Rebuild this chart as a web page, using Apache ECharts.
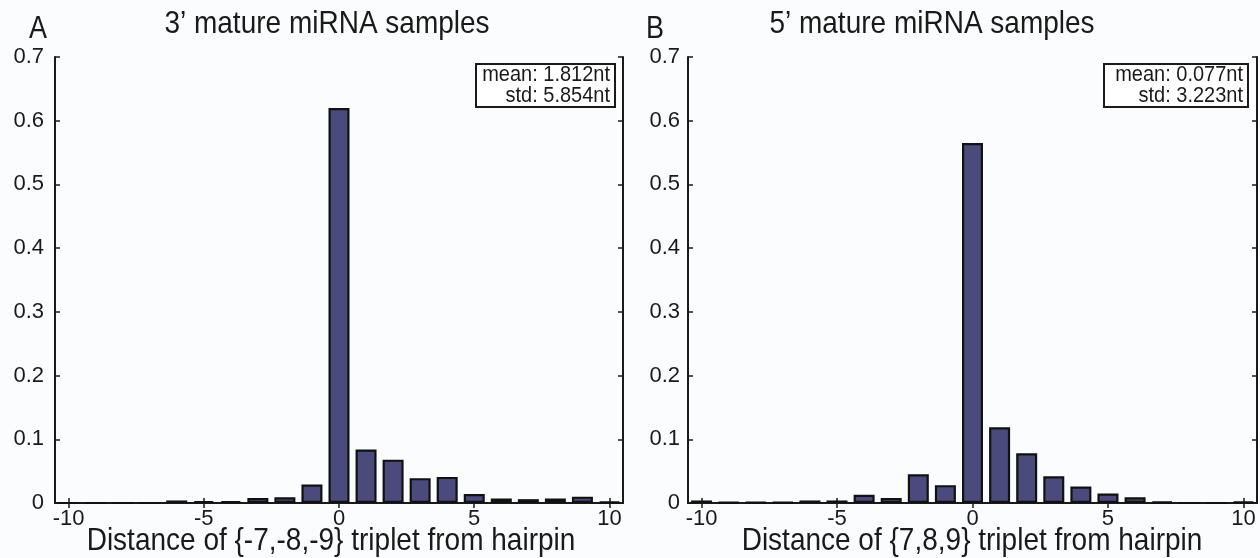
<!DOCTYPE html>
<html>
<head>
<meta charset="UTF-8" />
<title>miRNA triplet distance</title>
<script src="https://cdn.jsdelivr.net/npm/echarts@6/dist/echarts.min.js"></script>
<style>
  html, body { margin: 0; padding: 0; background: #fbfcfe; }
  #chart { width: 1260px; height: 558px; }
</style>
</head>
<body>
<div id="chart"></div>
<script>
// distance bins (nt)
var distances = ['-10','-9','-8','-7','-6','-5','-4','-3','-2','-1','0','1','2','3','4','5','6','7','8','9','10'];
// fraction of samples, panel A (3' mature) and panel B (5' mature)
var frac3p = [0, 0, 0, 0, 0.004, 0.003, 0.003, 0.008, 0.009, 0.029, 0.62, 0.084, 0.068, 0.039, 0.041, 0.014, 0.007, 0.006, 0.007, 0.010, 0.002];
var frac5p = [0.004, 0.001, 0.001, 0.001, 0.004, 0.004, 0.013, 0.008, 0.045, 0.028, 0.565, 0.119, 0.078, 0.042, 0.026, 0.015, 0.009, 0.002, 0, 0, 0.002];
var panelLetters = ['A', 'B'];
var panelTitles = ['3\u2019 mature miRNA samples', '5\u2019 mature miRNA samples'];
var xNames = ['Distance of {-7,-8,-9} triplet from hairpin', 'Distance of {7,8,9} triplet from hairpin'];
var statsMean = ['mean: 1.812nt', 'mean: 0.077nt'];
var statsStd = ['std: 5.854nt', 'std: 3.223nt'];

var FONT = '"Liberation Sans", Arial, Helvetica, sans-serif';
var INK = '#1a1a1a';
var BAR = '#4a4a7c';

var grids = [
  { left: 55, top: 57, width: 568, height: 446, outerBoundsMode: 'none' },
  { left: 688, top: 57, width: 569, height: 446, outerBoundsMode: 'none' }
];

function every5(i, v) { return Number(v) % 5 === 0; }

var xAxes = [], yAxes = [], series = [];
[frac3p, frac5p].forEach(function (data, g) {
  // bottom axis with labels
  xAxes.push({
    type: 'category', gridIndex: g, data: distances, position: 'bottom',
    axisLine: { show: true, lineStyle: { color: INK, width: 2 } },
    axisTick: { show: true, inside: true, length: 5, alignWithLabel: true, interval: every5, lineStyle: { color: INK, width: 1.5 } },
    axisLabel: { interval: every5, margin: 5, color: INK, fontSize: 22, fontFamily: FONT },
    splitLine: { show: false }
  });
  // top box line with ticks
  xAxes.push({
    type: 'category', gridIndex: g, data: distances, position: 'top',
    axisLine: { show: true, lineStyle: { color: INK, width: 2 } },
    axisTick: { show: true, inside: true, length: 5, alignWithLabel: true, interval: every5, lineStyle: { color: INK, width: 1.5 } },
    axisLabel: { show: false },
    splitLine: { show: false }
  });
  yAxes.push({
    type: 'value', gridIndex: g, min: 0, max: 0.7, interval: 0.1, position: 'left',
    axisLine: { show: true, lineStyle: { color: INK, width: 2 } },
    axisTick: { show: true, inside: true, length: 5, lineStyle: { color: INK, width: 1.5 } },
    axisLabel: {
      margin: g === 0 ? 11 : 8, color: INK, fontSize: 22, fontFamily: FONT,
      formatter: function (v) { return v === 0 ? '0' : v.toFixed(1); }
    },
    splitLine: { show: false }
  });
  yAxes.push({
    type: 'value', gridIndex: g, min: 0, max: 0.7, interval: 0.1, position: 'right',
    axisLine: { show: true, lineStyle: { color: INK, width: 2 } },
    axisTick: { show: true, inside: true, length: 5, lineStyle: { color: INK, width: 1.5 } },
    axisLabel: { show: false },
    splitLine: { show: false }
  });
  series.push({
    type: 'bar', xAxisIndex: g * 2, yAxisIndex: g * 2, data: data,
    barWidth: 21,
    itemStyle: { color: BAR, borderColor: '#111', borderWidth: 2.2 },
    emphasis: { disabled: true },
    animation: false
  });
});

// free text: stretched a little vertically, like the original lettering
function label(txt, x, y, size, align, sy) {
  return {
    type: 'text', x: x, y: y, scaleY: sy,
    style: { text: txt, x: 0, y: 0, align: align, verticalAlign: 'middle', font: size + 'px ' + FONT, fill: INK }
  };
}

var graphics = [];
var letterX = [38, 655], titleX = [327, 932], nameX = [331, 972];
var boxX = [476, 1104], boxW = [139, 144];
for (var g = 0; g < 2; g++) {
  graphics.push(label(panelLetters[g], letterX[g], 29, 27, 'center', 1.15));
  graphics.push(label(panelTitles[g], titleX[g], 24, 28, 'center', 1.15));
  graphics.push(label(xNames[g], nameX[g], 541, 28, 'center', 1.15));
  graphics.push({ type: 'rect', shape: { x: boxX[g], y: 64, width: boxW[g], height: 43 }, style: { fill: '#ffffff', stroke: INK, lineWidth: 2 } });
  graphics.push(label(statsMean[g], boxX[g] + boxW[g] - 5, 75, 20, 'right', 1.1));
  graphics.push(label(statsStd[g], boxX[g] + boxW[g] - 5, 96, 20, 'right', 1.1));
}

var myChart = echarts.init(document.getElementById('chart'), null, { renderer: 'canvas' });
myChart.setOption({
  backgroundColor: '#fbfcfe',
  animation: false,
  grid: grids,
  xAxis: xAxes,
  yAxis: yAxes,
  series: series,
  graphic: graphics
});
</script>
</body>
</html>
